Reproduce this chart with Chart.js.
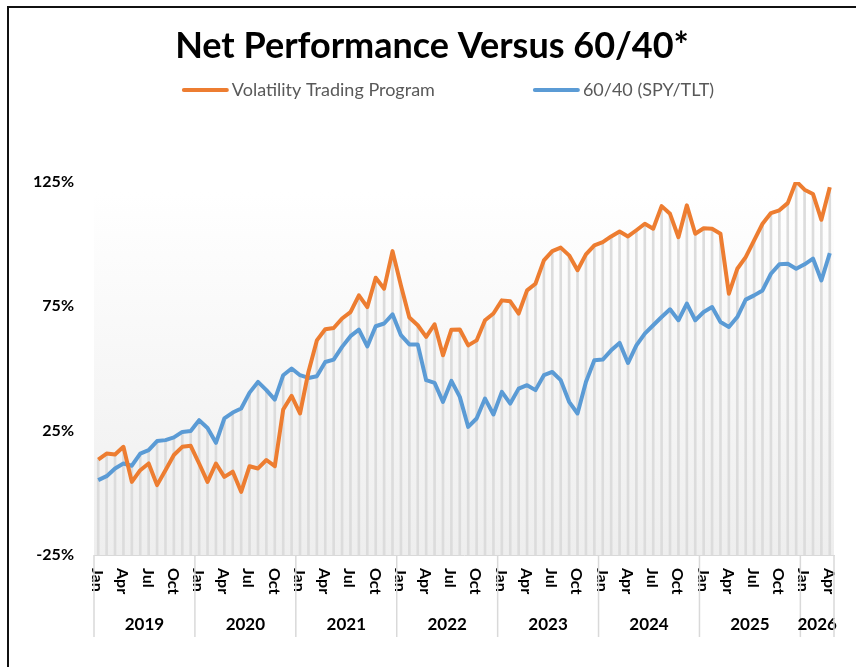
<!DOCTYPE html>
<html>
<head>
<meta charset="utf-8">
<script src="https://cdn.jsdelivr.net/npm/chart.js@4.4.1/dist/chart.umd.min.js"></script>
<style>
  body { margin: 0; background: #fff; }
  #wrap { position: relative; width: 856px; height: 667px; overflow: hidden; }
  #frame { position: absolute; left: 7px; top: 6px; width: 900px; height: 700px;
           border-left: 2px solid #111; border-top: 2px solid #111; pointer-events: none; }
</style>
</head>
<body>
<div id="wrap">
  <canvas id="perf-chart" width="856" height="667"></canvas>
  <div id="frame"></div>
</div>
<script>
// Category labels
const years = ['2019', '2020', '2021', '2022', '2023', '2024', '2025', '2026'];
const monthNames = ['Jan', 'Feb', 'Mar', 'Apr', 'May', 'Jun', 'Jul', 'Aug', 'Sep', 'Oct', 'Nov', 'Dec'];
const tickMonths = ['Jan', 'Apr', 'Jul', 'Oct'];
const monthsInLastYear = 4; // data runs to Apr 2026

// Build month categories (Jan 2019 .. Apr 2026)
const categories = [];
years.forEach((y, yi) => {
    const n = yi === years.length - 1 ? monthsInLastYear : 12;
    for (let m = 0; m < n; m++) categories.push(monthNames[m] + ' ' + y);
});

// Series values (cumulative net performance, %)
const volatilityProgram = [
    13.4, 15.8, 15.4, 18.5, 4.4, 9.1, 11.8, 3.1, 9.1, 15.2, 18.5, 18.9,
    11.8, 4.4, 11.8, 6.4, 8.5, 0.4, 10.7, 9.8, 13.2, 10.7, 33.5, 39.0,
    31.9, 48.6, 61.3, 65.8, 66.3, 70.1, 72.7, 79.4, 74.7, 86.5, 82.1, 97.2,
    83.4, 70.5, 67.4, 62.7, 67.8, 55.3, 65.6, 65.7, 59.3, 61.3, 69.4, 72.1,
    77.4, 77.0, 72.1, 81.4, 84.1, 93.5, 97.2, 98.6, 95.5, 89.5, 95.9, 99.5,
    100.8, 103.1, 105.1, 103.1, 105.6, 108.2, 106.2, 115.3, 112.2, 102.8, 115.6, 104.2,
    106.4, 106.2, 104.2, 80.1, 90.1, 94.8, 101.5, 108.2, 112.5, 113.6, 116.5, 125.3,
    121.9, 120.2, 109.8, 122.9
];
const sixtyForty = [
    5.1, 6.7, 9.8, 11.8, 10.9, 15.8, 17.2, 20.8, 21.2, 22.3, 24.5, 24.9,
    29.2, 26.1, 20.1, 29.9, 32.3, 33.9, 40.3, 44.6, 41.3, 37.5, 47.3, 50.0,
    47.3, 46.2, 46.9, 52.6, 53.6, 58.7, 63.0, 65.6, 58.9, 67.0, 68.1, 71.8,
    63.4, 59.7, 59.7, 45.3, 44.2, 36.6, 45.0, 38.6, 26.5, 29.9, 37.9, 31.5,
    40.6, 35.9, 41.9, 43.3, 41.3, 47.3, 48.6, 45.3, 36.6, 31.9, 44.6, 53.3,
    53.6, 57.3, 60.3, 52.2, 59.3, 64.0, 67.4, 70.7, 73.8, 69.4, 76.1, 69.4,
    72.7, 74.7, 68.7, 66.7, 70.7, 77.7, 79.4, 81.4, 88.1, 91.9, 92.1, 90.1,
    91.9, 94.2, 85.4, 96.4
];

// Y axis range / ticks
const yMin = -25;
const yMax = 125;
const yStep = 50;

const seriesNames = ['Volatility Trading Program', '60/40 (SPY/TLT)'];
const seriesColors = ['#ED7D31', '#5B9BD5'];

Chart.defaults.font.family = 'Lato';

// Light grey fade behind the plot
const plotBackground = {
    id: 'plotBackground',
    beforeDraw(chart) {
        const { ctx, chartArea: a } = chart;
        const g = ctx.createLinearGradient(0, a.top + 10, 0, a.bottom);
        g.addColorStop(0, '#ffffff');
        g.addColorStop(1, '#eeeeee');
        ctx.save();
        ctx.fillStyle = g;
        ctx.fillRect(a.left, a.top + 10, a.right - a.left, a.bottom - a.top - 10);
        ctx.restore();
    }
};

// Legend drawn as long line samples
const lineLegend = {
    id: 'lineLegend',
    afterDraw(chart) {
        const { ctx } = chart;
        const y = 90, sample = 43, gap = 5, between = 100;
        ctx.save();
        ctx.font = '18px Lato';
        const widths = seriesNames.map(n => ctx.measureText(n).width);
        const total = widths.reduce((s, w) => s + sample + gap + w, 0) + between;
        let x = 449 - total / 2;
        seriesNames.forEach((name, i) => {
            ctx.strokeStyle = seriesColors[i];
            ctx.lineWidth = 4;
            ctx.lineCap = 'round';
            ctx.beginPath();
            ctx.moveTo(x, y);
            ctx.lineTo(x + sample, y);
            ctx.stroke();
            ctx.fillStyle = '#595959';
            ctx.textAlign = 'left';
            ctx.textBaseline = 'middle';
            ctx.fillText(name, x + sample + gap, y);
            x += sample + gap + widths[i] + between;
        });
        ctx.restore();
    }
};

// Rotated month labels and year groups under the x axis
const groupedAxis = {
    id: 'groupedAxis',
    afterDraw(chart) {
        const { ctx, chartArea: a, scales: { x } } = chart;
        const step = x.getPixelForValue(1) - x.getPixelForValue(0);
        ctx.save();
        ctx.fillStyle = '#000';
        ctx.font = 'bold 16px Lato';
        categories.forEach((c, i) => {
            const m = c.split(' ')[0];
            if (!tickMonths.includes(m)) return;
            ctx.save();
            ctx.translate(x.getPixelForValue(i) - 1, a.bottom + 13);
            ctx.rotate(Math.PI / 2);
            ctx.textAlign = 'left';
            ctx.textBaseline = 'middle';
            ctx.fillText(m, 0, 0);
            ctx.restore();
        });

        ctx.strokeStyle = '#d9d9d9';
        ctx.lineWidth = 1.5;
        ctx.font = 'bold 17px Lato';
        ctx.textAlign = 'center';
        ctx.textBaseline = 'middle';
        let right = 0;
        years.forEach(y => {
            const idx = categories.map((c, i) => c.endsWith(y) ? i : -1).filter(i => i >= 0);
            const left = x.getPixelForValue(idx[0]) - step / 2;
            right = x.getPixelForValue(idx[idx.length - 1]) + step / 2;
            ctx.beginPath();
            ctx.moveTo(left, a.bottom);
            ctx.lineTo(left, a.bottom + 82);
            ctx.stroke();
            ctx.fillText(y, (left + right) / 2, a.bottom + 70);
        });
        ctx.beginPath();
        ctx.moveTo(right, a.bottom);
        ctx.lineTo(right, a.bottom + 82);
        ctx.stroke();
        ctx.restore();
    }
};

const chartCanvas = document.getElementById('perf-chart');

new Chart(chartCanvas.getContext('2d'), {
    data: {
        labels: categories,
        datasets: [
            {
                type: 'line',
                label: seriesNames[0],
                data: volatilityProgram,
                borderColor: seriesColors[0],
                backgroundColor: seriesColors[0],
                borderWidth: 4,
                pointRadius: 0,
                tension: 0,
                borderJoinStyle: 'round',
                order: 0
            },
            {
                type: 'line',
                label: seriesNames[1],
                data: sixtyForty,
                borderColor: seriesColors[1],
                backgroundColor: seriesColors[1],
                borderWidth: 4,
                pointRadius: 0,
                tension: 0,
                borderJoinStyle: 'round',
                order: 1
            },
            {
                // grey drop lines from the axis up to the higher series
                type: 'bar',
                label: 'drop',
                data: volatilityProgram.map((v, i) => [yMin, Math.max(v, sixtyForty[i])]),
                backgroundColor: '#dcdcdc',
                barThickness: 2,
                order: 5
            }
        ]
    },
    options: {
        responsive: false,
        devicePixelRatio: 1,
        animation: false,
        layout: { padding: { left: 30, right: 22, top: 0, bottom: 0 } },
        plugins: {
            legend: { display: false },
            tooltip: { enabled: false },
            title: {
                display: true,
                text: 'Net Performance Versus 60/40*',
                color: '#000',
                font: { size: 36, weight: 'bold' },
                padding: { top: 25, bottom: 113.8 }
            }
        },
        scales: {
            x: {
                type: 'category',
                offset: true,
                grid: { display: false },
                ticks: { display: false },
                border: { display: true, color: '#d9d9d9', width: 1 },
                afterFit: s => { s.height = 112; }
            },
            y: {
                min: yMin,
                max: yMax,
                grid: { display: false, drawTicks: false },
                border: { display: false },
                ticks: {
                    stepSize: yStep,
                    padding: 20,
                    color: '#000',
                    font: { size: 16, weight: 'bold' },
                    callback: v => v + '%'
                },
                afterFit: s => { s.width = 64; }
            }
        }
    },
    plugins: [plotBackground, lineLegend, groupedAxis]
});
</script>
</body>
</html>
